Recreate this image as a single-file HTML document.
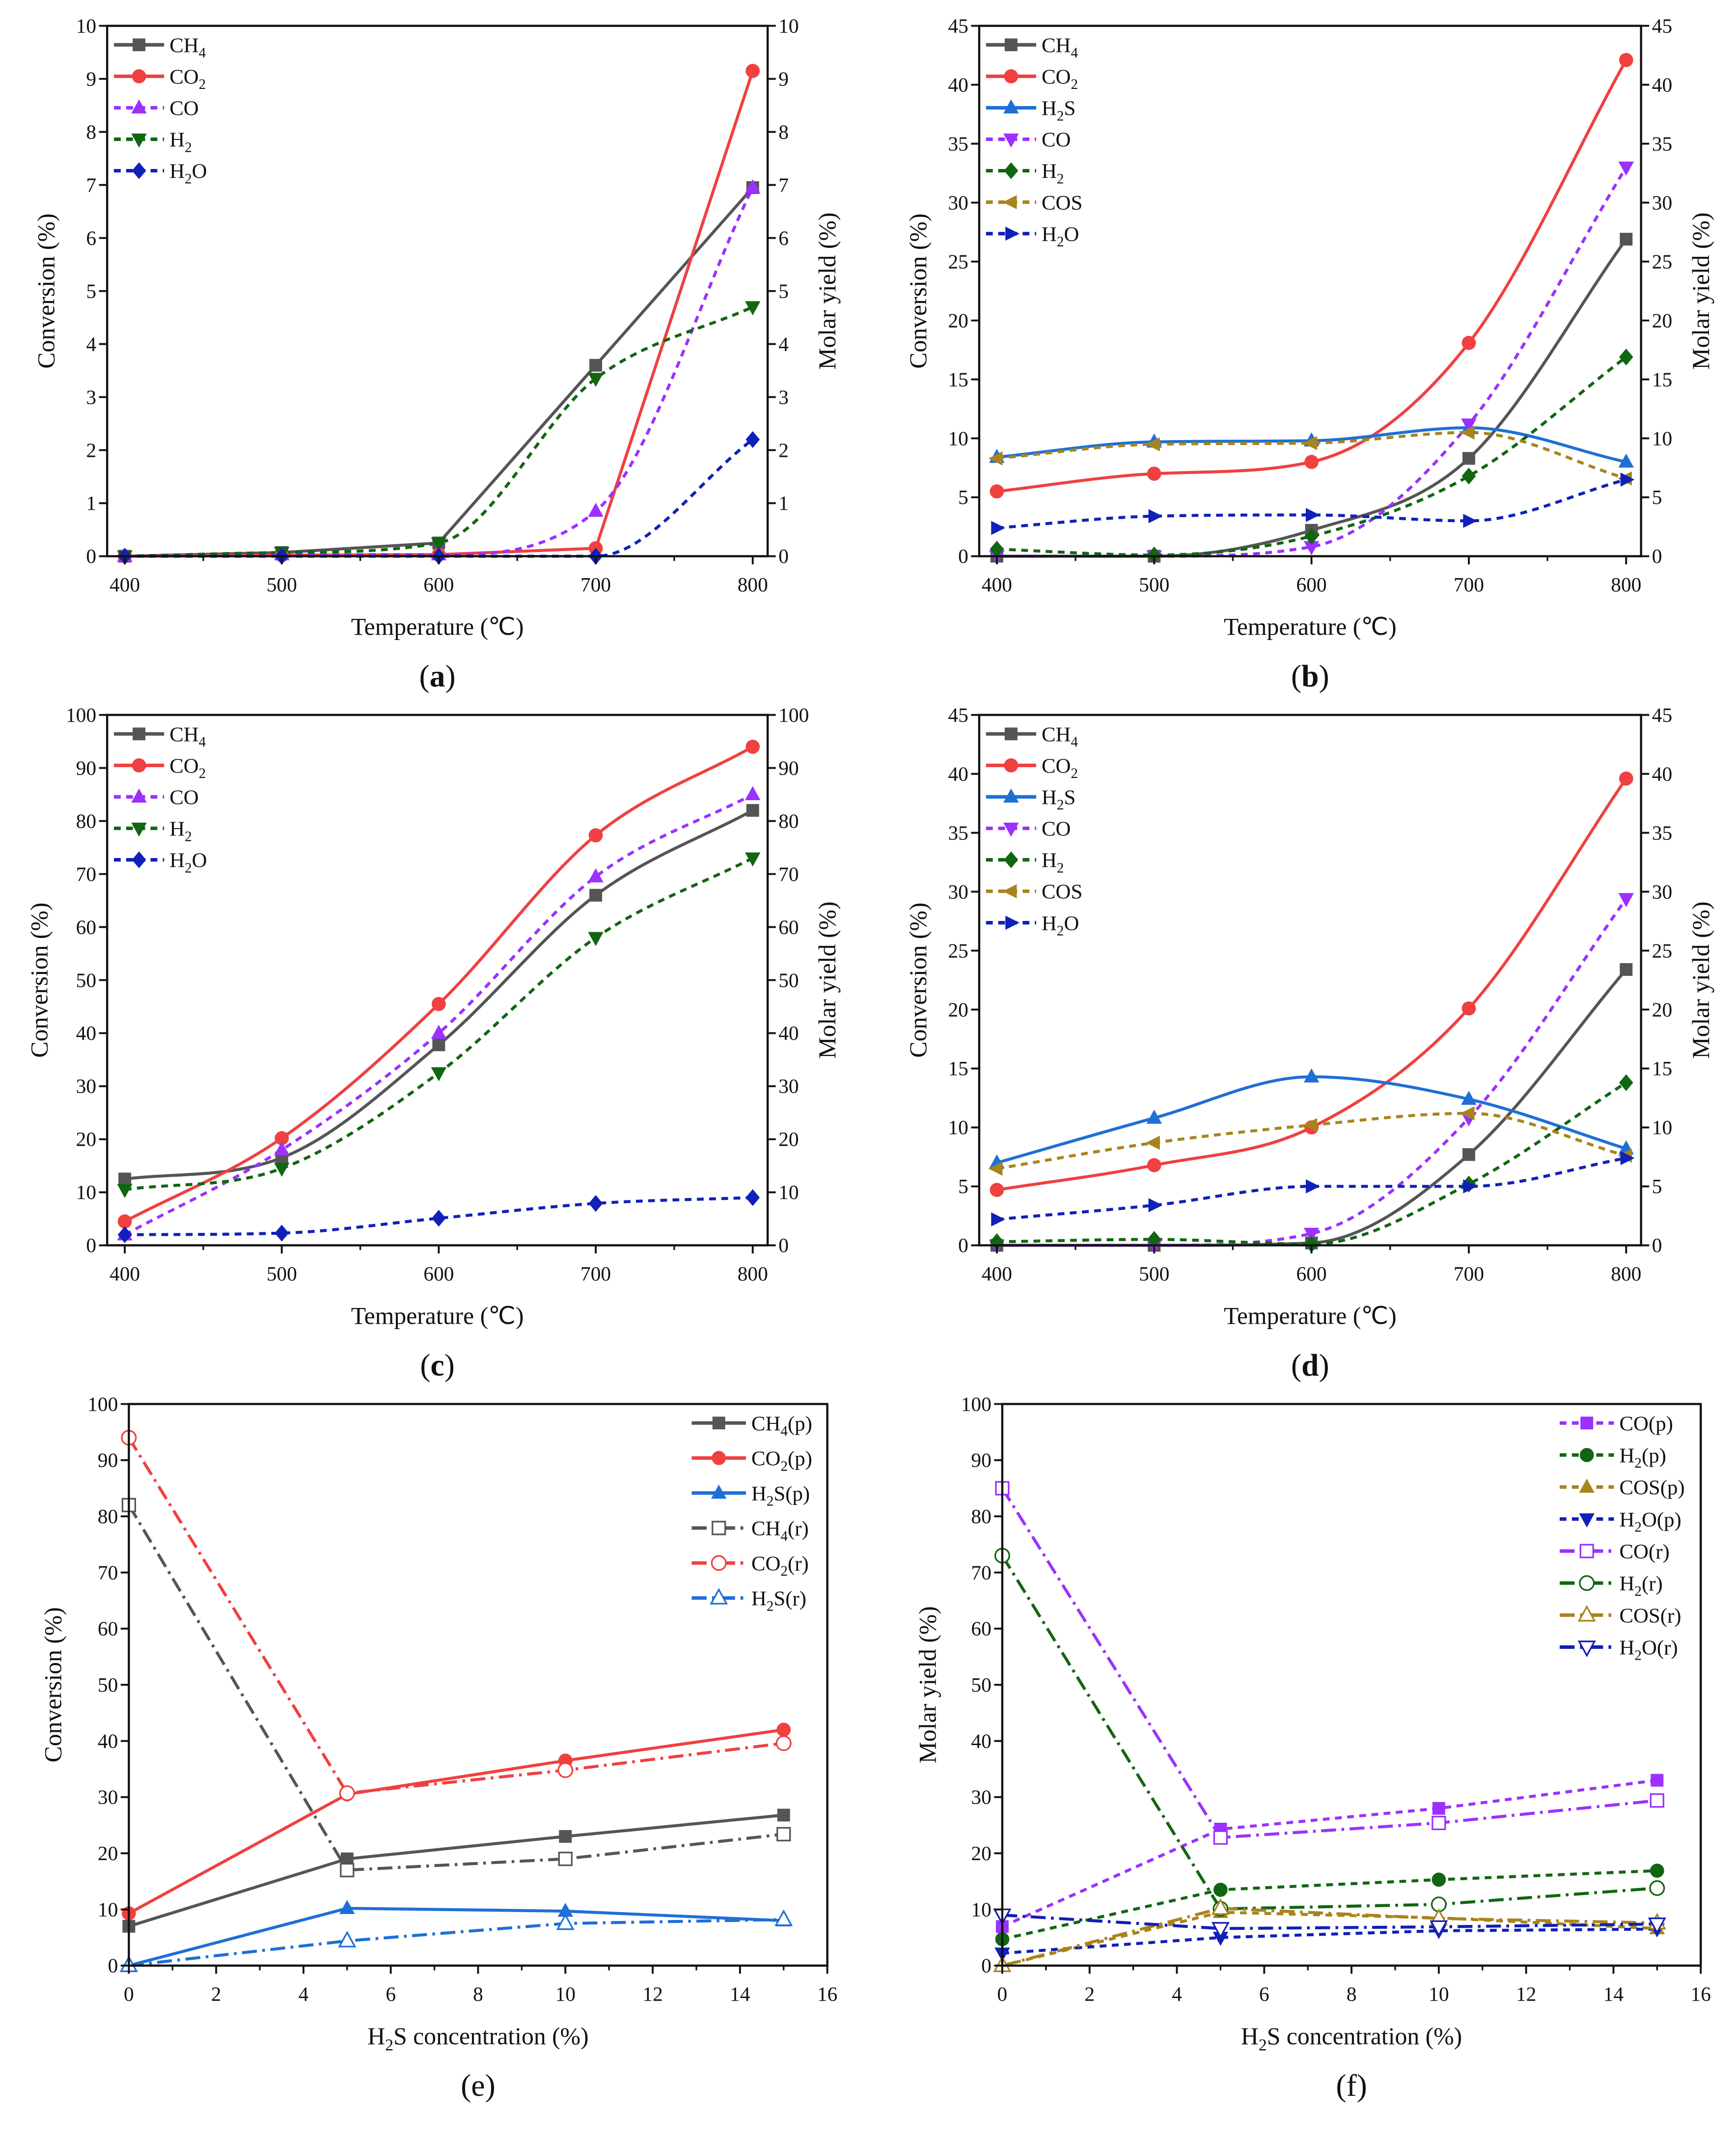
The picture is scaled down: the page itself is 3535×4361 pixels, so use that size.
<!DOCTYPE html>
<html><head><meta charset="utf-8">
<style>html,body{margin:0;padding:0;background:#fff}svg{display:block}</style>
</head><body>
<svg id="fig" xmlns="http://www.w3.org/2000/svg" width="3535" height="4361" viewBox="0 0 1280 1579" font-family="'Liberation Serif', serif">
<rect width="1280" height="1579" fill="#fff"/>
</svg>
<script>
// ---------- data ----------
const tempX = [400, 500, 600, 700, 800];
const h2sX = [0, 5, 10, 15];
const tempTicks = [400, 500, 600, 700, 800];
const h2sTicks = [0, 2, 4, 6, 8, 10, 12, 14, 16];
const ticks10 = [0,1,2,3,4,5,6,7,8,9,10];
const ticks45 = [0,5,10,15,20,25,30,35,40,45];
const ticks100 = [0,10,20,30,40,50,60,70,80,90,100];

const aCH4 = [0, 0.07, 0.25, 3.6, 6.95];
const aCO2 = [0, 0.02, 0.03, 0.15, 9.15];
const aCO  = [0, 0.03, 0.03, 0.85, 6.95];
const aH2  = [0, 0.07, 0.25, 3.35, 4.7];
const aH2O = [0, 0, 0, 0, 2.2];

const bCH4 = [0, 0, 2.2, 8.3, 26.9];
const bCO2 = [5.5, 7.0, 8.0, 18.1, 42.1];
const bH2S = [8.4, 9.7, 9.8, 10.9, 8.0];
const bCO  = [0, 0, 0.8, 11.2, 33.0];
const bH2  = [0.6, 0.1, 1.7, 6.8, 16.9];
const bCOS = [8.3, 9.5, 9.6, 10.5, 6.6];
const bH2O = [2.4, 3.4, 3.5, 3.0, 6.5];

const cCH4 = [12.5, 16.5, 37.8, 66, 82];
const cCO2 = [4.5, 20.2, 45.5, 77.3, 94];
const cCO  = [2, 18, 40, 69.5, 85];
const cH2  = [10.5, 14.5, 32.5, 58, 73];
const cH2O = [2, 2.3, 5.1, 7.9, 9];

const dCH4 = [0, 0, 0.2, 7.7, 23.4];
const dCO2 = [4.7, 6.8, 10, 20.1, 39.6];
const dH2S = [7, 10.8, 14.3, 12.4, 8.2];
const dCO  = [0, 0, 1, 10.8, 29.4];
const dH2  = [0.3, 0.5, 0.1, 5.2, 13.8];
const dCOS = [6.5, 8.7, 10.2, 11.2, 7.6];
const dH2O = [2.2, 3.4, 5, 5, 7.4];

const eCH4p = [7, 19, 23, 26.8];
const eCO2p = [9.3, 30.5, 36.5, 42];
const eH2Sp = [0, 10.2, 9.7, 8];
const eCH4r = [82, 17, 19, 23.4];
const eCO2r = [94, 30.7, 34.8, 39.6];
const eH2Sr = [0, 4.4, 7.5, 8.2];

const fCOp  = [6.95, 24.3, 28, 33];
const fH2p  = [4.7, 13.5, 15.3, 16.9];
const fCOSp = [0, 9.5, 8.5, 6.6];
const fH2Op = [2.2, 5, 6.2, 6.5];
const fCOr  = [85, 22.8, 25.4, 29.4];
const fH2r  = [73, 10.1, 10.9, 13.8];
const fCOSr = [0, 10.2, 8.4, 7.6];
const fH2Or = [9, 6.6, 6.9, 7.4];

// ---------- drawing ----------
const NS = 'http://www.w3.org/2000/svg';
const svg = document.getElementById('fig');
function mk(tag, attrs, parent){const e=document.createElementNS(NS,tag);for(const k in attrs)e.setAttribute(k,attrs[k]);(parent||svg).appendChild(e);return e;}
const C = {CH4:'#555555',CO2:'#f04040',H2S:'#1f6fd6',CO:'#9b30ff',H2:'#116611',COS:'#a8841c',H2O:'#1020b8'};
const DASH='5,4', DASHDOT='11,4,2,4';

function label(parent, x, y, parts, size, anchor, rot){
  const t = mk('text',{x:x,y:y,'font-size':size,'text-anchor':anchor||'start',fill:'#111'},parent);
  if(rot) t.setAttribute('transform','rotate(-90 '+x+' '+y+')');
  parts.forEach(p=>{
    const s=mk('tspan',{},t);
    if(p.sub){s.setAttribute('font-size',size*0.68);s.setAttribute('dy',size*0.25);}
    else if(p.after){s.setAttribute('dy',-size*0.25);}
    s.textContent=p.t;
  });
  return t;
}
function parse(name){
  const parts=[];let prevSub=false;
  for(const ch of name){
    const isSub=/[0-9]/.test(ch);
    if(isSub){parts.push({t:ch,sub:true});prevSub=true;}
    else{ if(prevSub){parts.push({t:ch,after:true});prevSub=false;} else { if(parts.length&&!parts[parts.length-1].sub&&!parts[parts.length-1].after) parts[parts.length-1].t+=ch; else parts.push({t:ch}); } }
  }
  return parts;
}
function marker(g, shape, x, y, color, open){
  const fill = open? '#fff' : color, sw = open?1.2:0;
  const r=5.2; let e;
  if(shape==='square') e=mk('rect',{x:x-r+0.5,y:y-r+0.5,width:2*r-1,height:2*r-1},g);
  else if(shape==='circle') e=mk('circle',{cx:x,cy:y,r:r},g);
  else if(shape==='up') e=mk('polygon',{points:`${x},${y-r-1} ${x+r+0.5},${y+r-1} ${x-r-0.5},${y+r-1}`},g);
  else if(shape==='down') e=mk('polygon',{points:`${x},${y+r+1} ${x+r+0.5},${y-r+1} ${x-r-0.5},${y-r+1}`},g);
  else if(shape==='diamond') e=mk('polygon',{points:`${x},${y-r-1} ${x+r},${y} ${x},${y+r+1} ${x-r},${y}`},g);
  else if(shape==='left') e=mk('polygon',{points:`${x-r-1},${y} ${x+r-1},${y-r} ${x+r-1},${y+r}`},g);
  else if(shape==='right') e=mk('polygon',{points:`${x+r+1},${y} ${x-r+1},${y-r} ${x-r+1},${y+r}`},g);
  e.setAttribute('fill',fill);e.setAttribute('stroke',color);e.setAttribute('stroke-width',sw);
  
  
}
// monotone cubic (Fritsch-Carlson) — no overshoot
function splinePath(pts){
  const n=pts.length, dx=[], m=[], t=[];
  for(let i=0;i<n-1;i++){dx[i]=pts[i+1][0]-pts[i][0];m[i]=(pts[i+1][1]-pts[i][1])/dx[i];}
  t[0]=m[0];t[n-1]=m[n-2];
  for(let i=1;i<n-1;i++){ if(m[i-1]*m[i]<=0) t[i]=0; else t[i]=(m[i-1]+m[i])/2; }
  for(let i=0;i<n-1;i++){
    if(m[i]===0){t[i]=0;t[i+1]=0;continue;}
    const a=t[i]/m[i], b=t[i+1]/m[i], s=a*a+b*b;
    if(s>9){const k=3/Math.sqrt(s);t[i]=k*a*m[i];t[i+1]=k*b*m[i];}
  }
  let d=`M${pts[0][0]},${pts[0][1]}`;
  for(let i=0;i<n-1;i++){
    const h=dx[i]/3;
    d+=` C${pts[i][0]+h},${pts[i][1]+t[i]*h} ${pts[i+1][0]-h},${pts[i+1][1]-t[i+1]*h} ${pts[i+1][0]},${pts[i+1][1]}`;
  }
  return d;
}
function linePath(pts){return 'M'+pts.map(p=>p[0]+','+p[1]).join(' L');}

function panel(cfg){
  const g=mk('g',{});
  
  
  const {L,R,T,B}=cfg;
  const sx=v=>cfg.px0+(v-cfg.xd[0])/(cfg.xd[1]-cfg.xd[0])*(cfg.px1-cfg.px0);
  const sy=v=>B-(v-cfg.yd[0])/(cfg.yd[1]-cfg.yd[0])*(B-T);
  const sg=mk('g',{},g);
  cfg.series.forEach(s=>{
    const pts=cfg.xs.map((x,i)=>[sx(x),sy(s.data[i])]);
    const smooth = s.linear ? false : cfg.smooth;
    const p=mk('path',{d:smooth?splinePath(pts):linePath(pts),fill:'none',stroke:s.color,'stroke-width':2.2,'stroke-linejoin':'round'},sg);
    if(s.dash) p.setAttribute('stroke-dasharray',s.dash);
    
    
  });
  cfg.series.forEach(s=>{cfg.xs.forEach((x,i)=>marker(sg,s.shape,sx(x),sy(s.data[i]),s.color,s.open));});
  const fr=mk('rect',{x:L,y:T,width:R-L,height:B-T,fill:'none',stroke:'#111','stroke-width':1.6},g);
  
  
  cfg.xticks.forEach((v,i)=>{
    const x=sx(v);
    mk('line',{x1:x,y1:B,x2:x,y2:B+6,stroke:'#111','stroke-width':1.4},g);
    const t=label(g,x,B+26,[{t:String(v)}],15,'middle');
    
    
    if(i<cfg.xticks.length-1){const m=sx((v+cfg.xticks[i+1])/2);mk('line',{x1:m,y1:B,x2:m,y2:B+3.5,stroke:'#111','stroke-width':1.2},g);}
  });
  cfg.yticks.forEach(v=>{
    const y=sy(v);
    mk('line',{x1:L-6,y1:y,x2:L,y2:y,stroke:'#111','stroke-width':1.4},g);
    const t=label(g,L-8,y+5,[{t:String(v)}],15,'end');
    
    
    if(cfg.right){
      mk('line',{x1:R,y1:y,x2:R+6,y2:y,stroke:'#111','stroke-width':1.4},g);
      const t2=label(g,R+8,y+5,[{t:String(v)}],15,'start');
      
      
    }
  });
  const yt=label(g,cfg.ytx,(T+B)/2,[{t:cfg.ytitle}],18,'middle',true);
  
  
  if(cfg.right){
    const rt=label(g,R+50,(T+B)/2,[{t:'Molar yield (%)'}],18,'middle',true);
    
    
  }
  const xt=label(g,(L+R)/2,B+58,cfg.xtitle,18,'middle');
  
  
  const pl=mk('text',{x:(L+R)/2,y:B+96,'font-size':23,'text-anchor':'middle',fill:'#111'},g);
  const a=mk('tspan',{},pl);a.textContent='(';
  const b=mk('tspan',{'font-weight':cfg.boldLabel?'bold':'normal'},pl);b.textContent=cfg.id;
  const c=mk('tspan',{},pl);c.textContent=')';
  
  
  const lg=mk('g',{},g);
  
  
  cfg.series.forEach((s,i)=>{
    const y=cfg.lgY+i*cfg.lgStep, x0=cfg.lgX, x1=cfg.lgX+cfg.lgW;
    const e=mk('g',{},lg);
    
    
    const ln=mk('line',{x1:x0,y1:y,x2:x1,y2:y,stroke:s.color,'stroke-width':2.6},e);
    if(s.dash) ln.setAttribute('stroke-dasharray',s.dash);
    marker(e,s.shape,(x0+x1)/2,y,s.color,s.open);
    label(e,x1+4,y+5.5,parse(s.name),15.5,'start');
  });
}

const tempTitle=[{t:'Temperature (℃)'}];
const h2sTitle=[{t:'H'},{t:'2',sub:true},{t:'S concentration (%)',after:true}];

panel({id:'a',L:79,R:566,T:19,B:410,px0:92,px1:555,xd:[400,800],yd:[0,10],xs:tempX,xticks:tempTicks,yticks:ticks10,smooth:true,right:true,ytx:40,ytitle:'Conversion (%)',xtitle:tempTitle,boldLabel:true,lgX:84,lgY:33,lgStep:23.2,lgW:37,
 series:[{name:'CH4',data:aCH4,color:C.CH4,shape:'square',linear:true},{name:'CO2',data:aCO2,color:C.CO2,shape:'circle',linear:true},{name:'CO',data:aCO,color:C.CO,shape:'up',dash:DASH},{name:'H2',data:aH2,color:C.H2,shape:'down',dash:DASH},{name:'H2O',data:aH2O,color:C.H2O,shape:'diamond',dash:DASH}]});
panel({id:'b',L:722,R:1210,T:19,B:410,px0:735,px1:1199,xd:[400,800],yd:[0,45],xs:tempX,xticks:tempTicks,yticks:ticks45,smooth:true,right:true,ytx:683,ytitle:'Conversion (%)',xtitle:tempTitle,boldLabel:true,lgX:727,lgY:33,lgStep:23.2,lgW:37,
 series:[{name:'CH4',data:bCH4,color:C.CH4,shape:'square'},{name:'CO2',data:bCO2,color:C.CO2,shape:'circle'},{name:'H2S',data:bH2S,color:C.H2S,shape:'up'},{name:'CO',data:bCO,color:C.CO,shape:'down',dash:DASH},{name:'H2',data:bH2,color:C.H2,shape:'diamond',dash:DASH},{name:'COS',data:bCOS,color:C.COS,shape:'left',dash:DASH},{name:'H2O',data:bH2O,color:C.H2O,shape:'right',dash:DASH}]});
panel({id:'c',L:79,R:566,T:527,B:918,px0:92,px1:555,xd:[400,800],yd:[0,100],xs:tempX,xticks:tempTicks,yticks:ticks100,smooth:true,right:true,ytx:35,ytitle:'Conversion (%)',xtitle:tempTitle,boldLabel:true,lgX:84,lgY:541,lgStep:23.2,lgW:37,
 series:[{name:'CH4',data:cCH4,color:C.CH4,shape:'square'},{name:'CO2',data:cCO2,color:C.CO2,shape:'circle'},{name:'CO',data:cCO,color:C.CO,shape:'up',dash:DASH},{name:'H2',data:cH2,color:C.H2,shape:'down',dash:DASH},{name:'H2O',data:cH2O,color:C.H2O,shape:'diamond',dash:DASH}]});
panel({id:'d',L:722,R:1210,T:527,B:918,px0:735,px1:1199,xd:[400,800],yd:[0,45],xs:tempX,xticks:tempTicks,yticks:ticks45,smooth:true,right:true,ytx:683,ytitle:'Conversion (%)',xtitle:tempTitle,boldLabel:true,lgX:727,lgY:541,lgStep:23.2,lgW:37,
 series:[{name:'CH4',data:dCH4,color:C.CH4,shape:'square'},{name:'CO2',data:dCO2,color:C.CO2,shape:'circle'},{name:'H2S',data:dH2S,color:C.H2S,shape:'up'},{name:'CO',data:dCO,color:C.CO,shape:'down',dash:DASH},{name:'H2',data:dH2,color:C.H2,shape:'diamond',dash:DASH},{name:'COS',data:dCOS,color:C.COS,shape:'left',dash:DASH},{name:'H2O',data:dH2O,color:C.H2O,shape:'right',dash:DASH}]});
panel({id:'e',L:95,R:610,T:1035,B:1449,px0:95,px1:610,xd:[0,16],yd:[0,100],xs:h2sX,xticks:h2sTicks,yticks:ticks100,smooth:false,right:false,ytx:45,ytitle:'Conversion (%)',xtitle:h2sTitle,boldLabel:false,lgX:510,lgY:1049,lgStep:25.8,lgW:40,
 series:[{name:'CH4(p)',data:eCH4p,color:C.CH4,shape:'square'},{name:'CO2(p)',data:eCO2p,color:C.CO2,shape:'circle'},{name:'H2S(p)',data:eH2Sp,color:C.H2S,shape:'up'},{name:'CH4(r)',data:eCH4r,color:C.CH4,shape:'square',open:true,dash:DASHDOT},{name:'CO2(r)',data:eCO2r,color:C.CO2,shape:'circle',open:true,dash:DASHDOT},{name:'H2S(r)',data:eH2Sr,color:C.H2S,shape:'up',open:true,dash:DASHDOT}]});
panel({id:'f',L:739,R:1254,T:1035,B:1449,px0:739,px1:1254,xd:[0,16],yd:[0,100],xs:h2sX,xticks:h2sTicks,yticks:ticks100,smooth:false,right:false,ytx:690,ytitle:'Molar yield (%)',xtitle:h2sTitle,boldLabel:false,lgX:1150,lgY:1049,lgStep:23.6,lgW:40,
 series:[{name:'CO(p)',data:fCOp,color:C.CO,shape:'square',dash:DASH},{name:'H2(p)',data:fH2p,color:C.H2,shape:'circle',dash:DASH},{name:'COS(p)',data:fCOSp,color:C.COS,shape:'up',dash:DASH},{name:'H2O(p)',data:fH2Op,color:C.H2O,shape:'down',dash:DASH},{name:'CO(r)',data:fCOr,color:C.CO,shape:'square',open:true,dash:DASHDOT},{name:'H2(r)',data:fH2r,color:C.H2,shape:'circle',open:true,dash:DASHDOT},{name:'COS(r)',data:fCOSr,color:C.COS,shape:'up',open:true,dash:DASHDOT},{name:'H2O(r)',data:fH2Or,color:C.H2O,shape:'down',open:true,dash:DASHDOT}]});
</script>
</body></html>
